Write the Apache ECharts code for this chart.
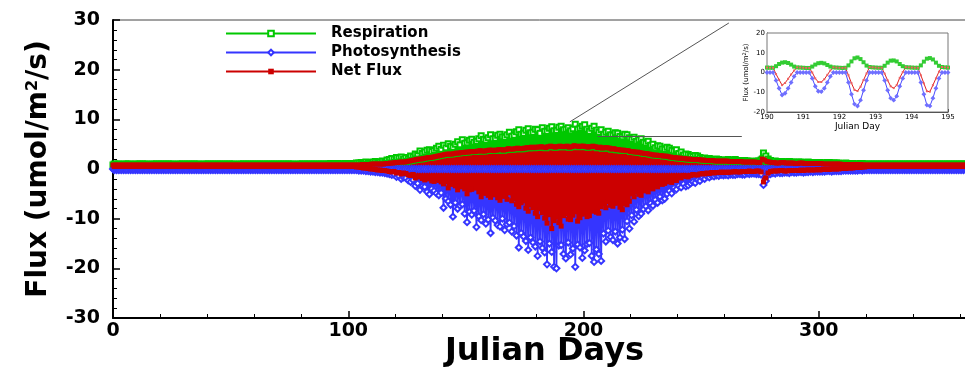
<!DOCTYPE html>
<html><head><meta charset="utf-8">
<script src="https://cdn.jsdelivr.net/npm/echarts@6/dist/echarts.min.js"></script>
<style>html,body{margin:0;padding:0;background:#fff}#c{width:965px;height:371px}</style>
</head><body><div id="c"></div>
<script>
const FONT = 'DejaVu Sans';
// Main chart: one entry per Julian day 0..365 (rows of 20 days).
// night value plotted at day d, daytime extreme at day d+0.5
const respPeak = [
 1.0,1.0,1.0,0.9,1.0,1.0,1.0,1.0,0.9,1.0,1.0,1.0,1.0,1.0,1.0,0.9,1.0,1.0,1.0,1.0,
 1.0,1.0,1.0,1.0,1.0,1.0,0.9,1.0,1.0,1.0,1.0,1.0,1.0,1.0,1.0,1.0,1.0,0.9,1.0,1.0,
 1.0,1.0,1.0,1.0,1.0,1.0,1.0,1.0,1.0,1.0,1.0,1.0,0.9,1.0,1.0,1.0,1.0,1.0,1.0,1.0,
 1.0,1.0,1.0,1.0,1.0,1.0,1.0,1.0,1.0,1.0,1.0,1.0,1.0,1.0,1.0,1.0,1.0,0.9,1.0,1.0,
 1.0,1.0,1.0,1.0,1.0,1.0,1.0,1.0,1.0,1.0,1.0,1.0,1.1,1.0,1.1,1.1,1.0,1.0,1.1,1.1,
 1.1,1.1,1.1,1.2,1.2,1.3,1.3,1.4,1.3,1.2,1.4,1.5,1.3,1.4,1.6,1.5,1.8,1.9,2.1,2.0,
 2.3,2.2,2.4,2.0,2.3,2.1,2.6,2.4,3.0,2.7,3.6,3.1,3.4,3.8,3.9,3.5,3.7,4.2,4.6,4.0,
 4.8,4.3,5.1,4.6,4.4,5.0,5.5,4.9,5.9,5.2,5.3,5.8,6.0,5.4,5.6,6.1,6.7,6.0,5.8,6.3,
 6.9,6.1,6.2,6.8,7.0,6.5,6.4,6.9,7.4,6.6,6.8,7.5,7.9,7.0,7.2,7.8,8.1,7.3,7.4,8.0,
 7.9,7.2,8.3,7.6,7.6,8.2,8.5,7.7,7.8,8.4,8.6,7.9,8.0,8.3,7.7,8.1,9.0,8.0,8.2,8.6,
 8.9,8.0,7.6,8.2,8.6,7.8,7.4,7.9,7.0,7.4,7.6,6.9,6.8,7.3,7.2,6.6,6.5,7.0,6.9,6.3,
 6.0,6.4,5.6,5.9,6.1,5.4,5.2,5.6,4.8,5.0,4.3,4.7,4.6,4.1,4.0,4.4,4.2,3.8,3.6,3.9,
 3.1,3.4,2.8,3.0,2.9,2.6,2.5,2.7,2.6,2.3,2.1,2.2,2.0,2.1,1.9,1.8,2.0,1.9,1.8,1.7,
 1.8,1.9,1.7,1.8,1.9,1.7,1.6,1.7,1.7,1.6,1.6,1.5,1.5,1.6,1.6,1.8,3.2,2.6,2.0,1.7,
 1.5,1.6,1.4,1.5,1.5,1.4,1.4,1.5,1.4,1.4,1.3,1.4,1.4,1.3,1.3,1.4,1.3,1.3,1.3,1.2,
 1.3,1.2,1.2,1.3,1.3,1.2,1.2,1.2,1.2,1.1,1.1,1.2,1.1,1.1,1.1,1.0,1.0,1.1,1.1,1.0,
 1.0,1.0,1.0,1.0,1.0,1.0,1.0,1.0,1.0,1.0,1.0,1.0,1.0,1.0,1.0,1.0,1.0,1.0,1.0,1.0,
 1.0,1.0,1.0,1.0,1.0,1.0,1.0,1.0,1.0,1.0,1.0,1.0,1.0,1.0,1.0,1.0,1.0,1.0,1.0,1.0,
 1.0,1.0,1.0,1.0,1.0,1.0
];
const respNight = [
 0.8,0.8,0.8,0.8,0.8,0.8,0.8,0.8,0.8,0.8,0.8,0.8,0.8,0.8,0.8,0.8,0.8,0.8,0.8,0.8,
 0.8,0.8,0.8,0.8,0.8,0.8,0.8,0.8,0.8,0.8,0.8,0.8,0.8,0.8,0.8,0.8,0.8,0.8,0.8,0.8,
 0.8,0.8,0.8,0.8,0.8,0.8,0.8,0.8,0.8,0.8,0.8,0.8,0.8,0.8,0.8,0.8,0.8,0.8,0.8,0.8,
 0.8,0.8,0.8,0.8,0.8,0.8,0.8,0.8,0.8,0.8,0.8,0.8,0.8,0.8,0.8,0.8,0.8,0.8,0.8,0.8,
 0.8,0.8,0.8,0.8,0.8,0.8,0.8,0.8,0.8,0.8,0.8,0.8,0.8,0.8,0.8,0.8,0.8,0.8,0.8,0.8,
 0.8,0.8,0.8,0.8,0.8,0.8,0.9,0.9,0.9,0.9,1.0,1.0,1.0,1.0,1.0,1.0,1.1,1.1,1.2,1.2,
 1.3,1.3,1.4,1.4,1.4,1.5,1.6,1.7,1.8,1.9,2.0,2.0,2.1,2.2,2.3,2.3,2.4,2.5,2.6,2.7,
 2.8,2.9,3.0,3.0,3.0,3.1,3.2,3.2,3.3,3.3,3.4,3.4,3.5,3.5,3.5,3.6,3.7,3.6,3.6,3.7,
 3.8,3.8,3.7,3.8,3.9,3.9,3.8,3.9,4.1,4.0,4.0,4.1,4.2,4.1,4.1,4.2,4.3,4.3,4.4,4.3,
 4.4,4.4,4.5,4.4,4.3,4.5,4.6,4.5,4.4,4.5,4.6,4.5,4.5,4.6,4.4,4.5,4.7,4.6,4.5,4.6,
 4.6,4.5,4.4,4.5,4.6,4.5,4.3,4.4,4.2,4.3,4.3,4.2,4.0,4.1,3.9,3.9,3.8,3.8,3.7,3.7,
 3.5,3.5,3.4,3.4,3.3,3.2,3.1,3.1,3.0,2.9,2.8,2.8,2.7,2.7,2.6,2.6,2.5,2.4,2.3,2.3,
 2.2,2.2,2.1,2.1,2.0,2.0,1.9,1.9,1.9,1.9,1.8,1.8,1.7,1.7,1.7,1.7,1.6,1.6,1.6,1.6,
 1.6,1.6,1.5,1.5,1.5,1.5,1.5,1.5,1.4,1.4,1.4,1.4,1.4,1.4,1.3,1.3,2.0,1.8,1.5,1.4,
 1.3,1.3,1.2,1.2,1.3,1.3,1.2,1.2,1.2,1.2,1.1,1.1,1.2,1.2,1.1,1.1,1.1,1.1,1.1,1.1,
 1.1,1.1,1.0,1.0,1.0,1.0,1.0,1.0,1.0,1.0,0.9,0.9,0.9,0.9,0.9,0.9,0.9,0.9,0.9,0.8,
 0.8,0.8,0.8,0.8,0.8,0.8,0.8,0.8,0.8,0.8,0.8,0.8,0.8,0.8,0.8,0.8,0.8,0.8,0.8,0.8,
 0.8,0.8,0.8,0.8,0.8,0.8,0.8,0.8,0.8,0.8,0.8,0.8,0.8,0.8,0.8,0.8,0.8,0.8,0.8,0.8,
 0.8,0.8,0.8,0.8,0.8,0.8
];
const photoMin = [
 -0.2,-0.2,-0.2,-0.2,-0.2,-0.2,-0.2,-0.2,-0.2,-0.2,-0.2,-0.2,-0.2,-0.2,-0.2,-0.2,-0.2,-0.2,-0.2,-0.2,
 -0.2,-0.2,-0.2,-0.2,-0.2,-0.2,-0.2,-0.2,-0.2,-0.2,-0.2,-0.2,-0.2,-0.2,-0.2,-0.2,-0.2,-0.2,-0.2,-0.2,
 -0.2,-0.2,-0.2,-0.2,-0.2,-0.2,-0.2,-0.2,-0.2,-0.2,-0.2,-0.2,-0.2,-0.2,-0.2,-0.2,-0.2,-0.2,-0.2,-0.2,
 -0.2,-0.2,-0.2,-0.2,-0.2,-0.2,-0.2,-0.2,-0.2,-0.2,-0.2,-0.2,-0.2,-0.2,-0.2,-0.2,-0.2,-0.2,-0.2,-0.2,
 -0.2,-0.2,-0.2,-0.2,-0.2,-0.2,-0.2,-0.2,-0.2,-0.2,-0.2,-0.2,-0.2,-0.2,-0.2,-0.2,-0.2,-0.2,-0.2,-0.2,
 -0.2,-0.2,-0.2,-0.2,-0.3,-0.3,-0.3,-0.4,-0.4,-0.5,-0.5,-0.6,-0.6,-0.7,-0.7,-0.8,-0.9,-1.0,-1.2,-1.1,
 -1.6,-1.4,-2.0,-1.7,-1.8,-2.3,-2.6,-2.2,-3.4,-2.9,-4.2,-3.5,-3.6,-4.6,-5.1,-4.0,-4.4,-4.9,-5.3,-4.8,
 -7.8,-6.0,-6.5,-7.2,-9.6,-6.8,-8.0,-7.4,-7.1,-9.0,-10.7,-8.6,-9.2,-8.4,-11.7,-9.5,-10.3,-9.1,-11.0,-10.2,
 -12.9,-9.8,-10.4,-11.3,-11.6,-10.0,-12.3,-11.1,-10.8,-12.6,-11.5,-13.4,-15.8,-12.9,-13.6,-14.5,-16.3,-13.8,-14.8,-15.6,
 -17.5,-14.6,-15.9,-16.8,-19.2,-15.0,-16.7,-19.7,-20.0,-15.4,-15.3,-17.1,-18.0,-14.8,-17.2,-16.0,-19.7,-15.2,-15.8,-17.9,
 -16.4,-15.1,-14.9,-17.5,-18.7,-16.2,-17.1,-18.5,-13.0,-14.6,-12.4,-13.7,-14.3,-12.6,-15.0,-13.8,-12.2,-14.1,-10.5,-12.0,
 -9.3,-10.6,-8.2,-9.5,-9.0,-8.1,-7.5,-8.3,-6.9,-7.4,-6.2,-6.8,-5.6,-6.3,-6.0,-5.0,-4.4,-4.9,-3.8,-4.1,
 -3.4,-3.7,-3.0,-3.5,-3.3,-2.9,-2.6,-2.8,-2.2,-2.4,-1.8,-2.0,-1.5,-1.7,-1.4,-1.5,-1.3,-1.4,-1.2,-1.3,
 -1.2,-1.3,-1.1,-1.2,-1.2,-1.0,-1.0,-1.1,-1.1,-0.9,-1.0,-0.9,-0.9,-1.0,-1.0,-1.1,-3.2,-2.4,-1.2,-1.0,
 -0.8,-0.9,-0.7,-0.8,-0.8,-0.7,-0.7,-0.8,-0.6,-0.7,-0.7,-0.6,-0.6,-0.7,-0.6,-0.6,-0.5,-0.6,-0.5,-0.5,
 -0.5,-0.5,-0.5,-0.4,-0.4,-0.5,-0.4,-0.4,-0.4,-0.4,-0.3,-0.3,-0.3,-0.3,-0.3,-0.3,-0.3,-0.2,-0.3,-0.2,
 -0.2,-0.2,-0.2,-0.2,-0.2,-0.2,-0.2,-0.2,-0.2,-0.2,-0.2,-0.2,-0.2,-0.2,-0.2,-0.2,-0.2,-0.2,-0.2,-0.2,
 -0.2,-0.2,-0.2,-0.2,-0.2,-0.2,-0.2,-0.2,-0.2,-0.2,-0.2,-0.2,-0.2,-0.2,-0.2,-0.2,-0.2,-0.2,-0.2,-0.2,
 -0.2,-0.2,-0.2,-0.2,-0.2,-0.2
];
const netMin = [
 0.5,0.5,0.5,0.5,0.5,0.5,0.5,0.5,0.5,0.5,0.5,0.5,0.5,0.5,0.5,0.5,0.5,0.5,0.5,0.5,
 0.5,0.5,0.5,0.5,0.5,0.5,0.5,0.5,0.5,0.5,0.5,0.5,0.5,0.5,0.5,0.5,0.5,0.5,0.5,0.5,
 0.5,0.5,0.5,0.5,0.5,0.5,0.5,0.5,0.5,0.5,0.5,0.5,0.5,0.5,0.5,0.5,0.5,0.5,0.5,0.5,
 0.5,0.5,0.5,0.5,0.5,0.5,0.5,0.5,0.5,0.5,0.5,0.5,0.5,0.5,0.5,0.5,0.5,0.5,0.5,0.5,
 0.5,0.5,0.5,0.5,0.5,0.5,0.5,0.5,0.5,0.5,0.5,0.5,0.5,0.5,0.5,0.5,0.5,0.5,0.5,0.5,
 0.5,0.5,0.5,0.4,0.4,0.3,0.2,0.2,0.1,0.0,0.0,-0.1,-0.2,-0.2,-0.3,-0.3,-0.4,-0.5,-0.6,-0.5,
 -0.8,-0.7,-1.0,-0.8,-0.9,-1.2,-1.3,-1.1,-1.8,-1.5,-1.6,-1.9,-2.2,-1.8,-2.0,-2.4,-2.5,-2.1,-2.3,-2.6,
 -3.0,-2.6,-3.8,-3.1,-2.9,-3.4,-4.2,-3.5,-3.6,-4.0,-5.0,-4.2,-4.1,-3.8,-3.8,-4.6,-5.6,-4.8,-4.9,-5.3,
 -5.7,-4.9,-5.2,-5.8,-6.3,-5.4,-5.5,-6.1,-4.8,-6.4,-6.0,-7.1,-7.6,-6.8,-6.4,-7.9,-8.5,-7.2,-7.8,-8.9,
 -9.6,-8.0,-8.8,-9.9,-10.9,-9.2,-12.0,-10.4,-9.7,-10.8,-11.5,-9.4,-9.0,-10.1,-10.2,-9.3,-8.6,-10.5,-9.8,-9.1,
 -8.8,-9.6,-9.4,-8.5,-7.9,-8.7,-8.9,-7.6,-7.0,-7.8,-6.6,-7.3,-7.5,-6.9,-6.8,-7.7,-8.2,-7.0,-7.2,-6.5,
 -5.0,-5.6,-4.6,-5.1,-5.3,-4.4,-4.2,-4.6,-3.8,-4.0,-3.3,-3.6,-2.7,-3.1,-2.9,-2.6,-2.4,-2.7,-2.2,-2.3,
 -1.5,-1.8,-1.3,-1.5,-1.6,-1.3,-1.1,-1.2,-1.2,-1.0,-0.9,-1.0,-0.8,-0.9,-0.7,-0.8,-0.7,-0.7,-0.6,-0.7,
 -0.6,-0.7,-0.6,-0.6,-0.5,-0.6,-0.6,-0.5,-0.5,-0.5,-0.4,-0.5,-0.5,-0.4,-0.4,-0.6,-2.6,-1.8,-0.8,-0.5,
 -0.4,-0.4,-0.4,-0.3,-0.3,-0.4,-0.4,-0.3,-0.3,-0.3,-0.3,-0.3,-0.2,-0.3,-0.2,-0.2,-0.2,-0.2,-0.2,-0.1,
 -0.2,-0.1,-0.1,-0.1,-0.1,0.0,0.0,0.0,0.0,0.1,0.1,0.1,0.2,0.2,0.2,0.3,0.3,0.3,0.4,0.4,
 0.5,0.5,0.5,0.5,0.5,0.5,0.5,0.5,0.5,0.5,0.5,0.5,0.5,0.5,0.5,0.5,0.5,0.5,0.5,0.5,
 0.5,0.5,0.5,0.5,0.5,0.5,0.5,0.5,0.5,0.5,0.5,0.5,0.5,0.5,0.5,0.5,0.5,0.5,0.5,0.5,
 0.5,0.5,0.5,0.5,0.5,0.5
];
// Inset: days 190-195 every 2 hours
const insetResp = [
 2.5,2.4,2.4,3.2,4.3,5.0,5.2,4.8,4.0,3.0,2.6,2.5,
 2.4,2.3,2.3,3.0,4.0,4.7,4.9,4.6,3.8,3.0,2.6,2.5,
 2.4,2.3,2.4,3.6,5.6,7.2,7.6,6.8,5.2,3.5,2.8,2.6,
 2.5,2.4,2.4,3.4,5.0,6.0,6.1,5.6,4.3,3.2,2.7,2.6,
 2.5,2.4,2.4,3.6,5.5,7.0,7.3,6.6,5.0,3.4,2.8,2.6,
 2.5
];
const insetPhoto = [
 0,0,0,-4,-8,-11.4,-10.5,-8,-5,-2,0,0,
 0,0,0,-3,-7,-9.5,-9.7,-8,-5,-2,0,0,
 0,0,0,-5,-11,-16,-17,-14,-9,-4,0,0,
 0,0,0,-4,-9,-13,-14,-12,-7,-3,0,0,
 0,0,0,-5,-11,-16.5,-17,-13,-8,-3,0,0,
 0
];
const insetNet = [
 2.5,2.4,2.4,-0.8,-3.7,-6.4,-5.3,-3.2,-1.0,1.0,2.6,2.5,
 2.4,2.3,2.3,0.0,-3.0,-4.8,-4.8,-3.4,-1.2,1.0,2.6,2.5,
 2.4,2.3,2.4,-1.4,-5.4,-8.8,-9.4,-7.2,-3.8,-0.5,2.8,2.6,
 2.5,2.4,2.4,-0.6,-4.0,-7.0,-7.9,-6.4,-2.7,0.2,2.7,2.6,
 2.5,2.4,2.4,-1.4,-5.5,-9.5,-9.7,-6.4,-3.0,0.4,2.8,2.6,
 2.5
];

function zig(night, peak) {
  const out = [];
  for (let d = 0; d < peak.length; d++) {
    out.push([d, Array.isArray(night) ? night[d] : night]);
    out.push([d + 0.5, peak[d]]);
  }
  return out;
}
function insetData(vals) { return vals.map((v, i) => [190 + i / 12, v]); }

const GREEN = '#00c800', BLUE = '#3535ff', RED = '#cc0000';
const chart = echarts.init(document.getElementById('c'));
const axisText = { fontFamily: FONT, fontWeight: 'bold', fontSize: 19, color: '#000' };
chart.setOption({
  animation: false,
  backgroundColor: '#fff',
  grid: [
    { left: 113, width: 941, top: 20, bottom: 53, show: true, borderColor: '#444', borderWidth: 1, outerBoundsMode: 'none', containLabel: false },
    { left: 767, right: 17, top: 33, bottom: 259, show: true, borderColor: '#777', borderWidth: 1, backgroundColor: '#fff', z: 5, outerBoundsMode: 'none', containLabel: false }
  ],
  legend: {
    data: ['Respiration', 'Photosynthesis', 'Net Flux'],
    orient: 'vertical', left: 220, top: 21, itemWidth: 90, itemHeight: 7, itemGap: 4,
    textStyle: { fontFamily: FONT, fontWeight: 'bold', fontSize: 15, color: '#000', padding: [0, 0, 0, 10] },
    selectedMode: false
  },
  xAxis: [
    { type: 'value', gridIndex: 0, min: 0, max: 400, interval: 100,
      axisLine: { onZero: false, lineStyle: { color: '#000', width: 2 } },
      axisTick: { inside: true, length: 7, lineStyle: { color: '#000', width: 1.5 } },
      minorTick: { show: true, splitNumber: 5, length: 4, lineStyle: { color: '#000', width: 1 } },
      splitLine: { show: false },
      axisLabel: Object.assign({ margin: 4, showMaxLabel: false }, axisText),
      name: 'Julian Days', nameLocation: 'middle', nameGap: 18, nameMoveOverlap: false,
      nameTextStyle: { fontFamily: FONT, fontWeight: 'bold', fontSize: 32, color: '#000', padding: [0, 78, 0, 0] }
    },
    { type: 'value', gridIndex: 1, min: 190, max: 195, interval: 1,
      axisLine: { onZero: false, lineStyle: { color: '#333', width: 1 } },
      axisTick: { inside: true, length: 3, lineStyle: { color: '#333' } },
      minorTick: { show: true, splitNumber: 4, length: 2, lineStyle: { color: '#333' } },
      splitLine: { show: false },
      axisLabel: { fontFamily: FONT, fontSize: 7, color: '#000', margin: 2 },
      name: 'Julian Day', nameLocation: 'middle', nameGap: 4,
      nameTextStyle: { fontFamily: FONT, fontSize: 9, color: '#000' }
    }
  ],
  yAxis: [
    { type: 'value', gridIndex: 0, min: -30, max: 30, interval: 10,
      axisLine: { lineStyle: { color: '#000', width: 2 } },
      axisTick: { inside: true, length: 7, lineStyle: { color: '#000', width: 1.5 } },
      minorTick: { show: true, splitNumber: 5, length: 4, lineStyle: { color: '#000', width: 1 } },
      splitLine: { show: false },
      axisLabel: Object.assign({ margin: 13 }, axisText),
      name: 'Flux (umol/m{sup|2}/s)', nameLocation: 'middle', nameGap: 60, nameRotate: 90,
      nameTextStyle: { fontFamily: FONT, fontWeight: 'bold', fontSize: 28, color: '#000',
        rich: { sup: { fontFamily: FONT, fontWeight: 'bold', fontSize: 16, verticalAlign: 'top', color: '#000' } } }
    },
    { type: 'value', gridIndex: 1, min: -20, max: 20, interval: 10,
      axisLine: { lineStyle: { color: '#333', width: 1 } },
      axisTick: { inside: true, length: 3, lineStyle: { color: '#333' } },
      minorTick: { show: true, splitNumber: 2, length: 2, lineStyle: { color: '#333' } },
      splitLine: { show: false },
      axisLabel: { fontFamily: FONT, fontSize: 7, color: '#000', margin: 2 },
      name: 'Flux (umol/m{sup|2}/s)', nameLocation: 'middle', nameGap: 11, nameRotate: 90,
      nameTextStyle: { fontFamily: FONT, fontSize: 7, color: '#000',
        rich: { sup: { fontFamily: FONT, fontSize: 5, verticalAlign: 'top', color: '#000' } } }
    }
  ],
  series: [
    { name: 'Respiration', type: 'line', xAxisIndex: 0, yAxisIndex: 0, data: zig(respNight, respPeak),
      symbol: 'emptyRect', symbolSize: 5, showAllSymbol: true,
      lineStyle: { color: GREEN, width: 2 }, itemStyle: { color: GREEN, borderWidth: 1 }, z: 2, silent: true },
    { name: 'Photosynthesis', type: 'line', xAxisIndex: 0, yAxisIndex: 0, data: zig(0, photoMin),
      symbol: 'emptyDiamond', symbolSize: 6, showAllSymbol: true,
      lineStyle: { color: BLUE, width: 1.8 }, itemStyle: { color: BLUE, borderWidth: 1 }, z: 2, silent: true },
    { name: 'Net Flux', type: 'line', xAxisIndex: 0, yAxisIndex: 0, data: zig(respNight, netMin),
      symbol: 'rect', symbolSize: 5, showAllSymbol: true,
      lineStyle: { color: RED, width: 2.4 }, itemStyle: { color: RED }, z: 2, silent: true,
      markLine: { silent: true, symbol: ['none', 'none'], label: { show: false },
        lineStyle: { color: '#555', width: 1, type: 'solid' },
        data: [
          [{ coord: [194.2, 9.5] }, { coord: [261.8, 29.4] }],
          [{ coord: [206, 6.5] }, { coord: [267.3, 6.5] }]
        ] } },
    { name: 'Respiration (190-195)', type: 'line', xAxisIndex: 1, yAxisIndex: 1, data: insetData(insetResp),
      symbol: 'emptyRect', symbolSize: 2, lineStyle: { color: '#33cc33', width: 1 }, itemStyle: { color: '#33cc33' }, z: 6, silent: true },
    { name: 'Photosynthesis (190-195)', type: 'line', xAxisIndex: 1, yAxisIndex: 1, data: insetData(insetPhoto),
      symbol: 'emptyDiamond', symbolSize: 2, lineStyle: { color: '#4a4aff', width: 1 }, itemStyle: { color: '#6f6fff' }, z: 6, silent: true },
    { name: 'Net Flux (190-195)', type: 'line', xAxisIndex: 1, yAxisIndex: 1, data: insetData(insetNet),
      symbol: 'rect', symbolSize: 2, lineStyle: { color: '#e02020', width: 1 }, itemStyle: { color: '#ee6060' }, z: 6, silent: true }
  ]
});
</script></body></html>
